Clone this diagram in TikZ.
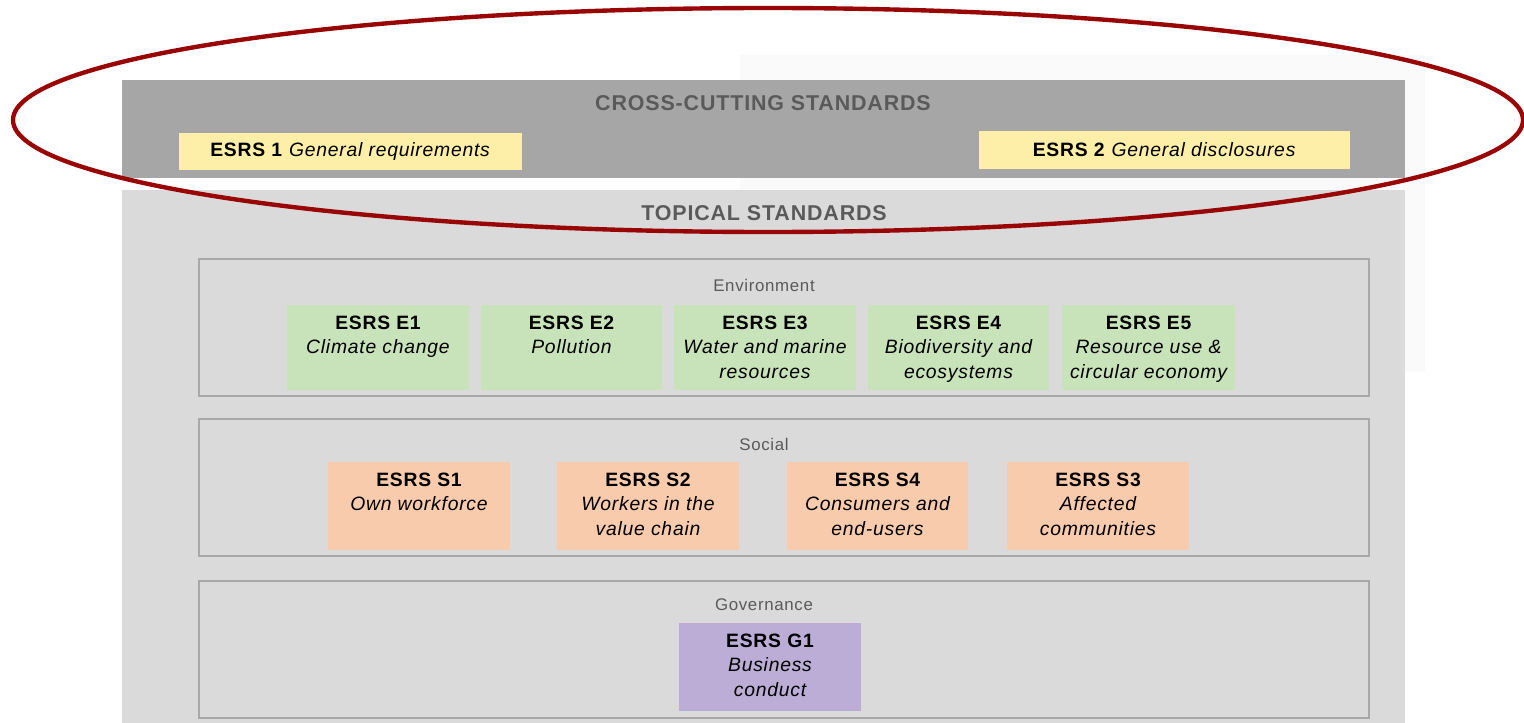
\documentclass[tikz,border=0pt]{standalone}
\usepackage{fontspec}
\setmainfont{Liberation Sans}[LetterSpace=4]
\usepackage{tikz}
\usetikzlibrary{positioning}

\definecolor{crossgray}{HTML}{A6A6A6}
\definecolor{topicgray}{HTML}{DADADA}
\definecolor{framegray}{HTML}{A8A8A8}
\definecolor{titlegray}{HTML}{5A5A5A}
\definecolor{esrsyellow}{HTML}{FDEEA8}
\definecolor{esrsgreen}{HTML}{C8E2B9}
\definecolor{esrsorange}{HTML}{F8CBAD}
\definecolor{esrspurple}{HTML}{BBADD5}
\definecolor{ringred}{HTML}{990606}

\newcommand{\esrsid}[1]{\textbf{\upshape ESRS #1}}

\tikzset{
  grouptitle/.style={text=titlegray, font=\fontsize{12.2}{14}\selectfont\bfseries},
  groupframe/.style={draw=framegray, line width=0.6pt},
  grouplabel/.style={text=titlegray, font=\fontsize{9.6}{11}\selectfont},
  crossbox/.style={fill=esrsyellow, draw=none, minimum height=0.76cm,
    inner sep=0pt, font=\fontsize{11}{13}\selectfont},
  topicbox/.style={draw=none, minimum width=3.64cm, inner sep=0pt},
  boxtext/.style={anchor=north, align=center, inner sep=0pt,
    font=\fontsize{11}{13.9}\selectfont\itshape}
}

\begin{document}
\begin{tikzpicture}[x=0.02cm, y=-0.02cm]
  \useasboundingbox (0,0) rectangle (1524,723);
  \fill[white] (0,0) rectangle (1524,723);
  \fill[gray!4] (740,55) rectangle (1425,372);

  % ── Cross-cutting standards ───────────────────────────────────────
  \fill[crossgray] (122,80) rectangle (1405,178);
  \node[grouptitle] (crosstitle) at (763,103) {CROSS-CUTTING STANDARDS};
  \node[crossbox, minimum width=6.86cm] (esrs1) at (350.5,151.5)
    {\textbf{ESRS 1} \textit{General requirements}};
  \node[crossbox, minimum width=7.42cm] (esrs2) at (1164.5,150)
    {\textbf{ESRS 2} \textit{General disclosures}};

  % ── Topical standards ─────────────────────────────────────────────
  \fill[topicgray] (122,190) rectangle (1405,723);
  \node[grouptitle] (topictitle) at (764,213) {TOPICAL STANDARDS};

  \draw[groupframe] (199,259) rectangle (1369,396);
  \draw[groupframe] (199,419) rectangle (1369,556);
  \draw[groupframe] (199,581) rectangle (1369,718);
  \foreach \grp/\ttl/\yy in {env/Environment/285, soc/Social/444, gov/Governance/605}
    { \node[grouplabel] (\grp) at (764,\yy) {\ttl}; }

  % environment
  \foreach \nm/\cx/\bw/\id/\desc in {e1/378/3.64/E1/Climate change,
      e2/571.5/3.62/E2/Pollution,
      e3/765/3.64/E3/Water and marine\\resources,
      e4/958.5/3.62/E4/Biodiversity and\\ecosystems,
      e5/1148.5/3.46/E5/Resource use \&\\circular economy}
    { \node[topicbox, fill=esrsgreen, minimum width=\bw cm, minimum height=1.7cm]
        (\nm) at (\cx,347.5) {};
      \node[boxtext] at ([yshift=-0.22cm]\nm.north) {\esrsid{\id}\\\desc}; }

  % social
  \foreach \nm/\cx/\id/\desc in {s1/419/S1/Own workforce,
      s2/648/S2/Workers in the\\value chain,
      s4/877.5/S4/Consumers and\\end-users,
      s3/1098/S3/Affected\\communities}
    { \node[topicbox, fill=esrsorange, minimum height=1.76cm] (\nm) at (\cx,506) {};
      \node[boxtext] at ([yshift=-0.22cm]\nm.north) {\esrsid{\id}\\\desc}; }

  % governance
  \node[topicbox, fill=esrspurple, minimum height=1.76cm] (g1) at (770,667) {};
  \node[boxtext] at ([yshift=-0.22cm]g1.north) {\esrsid{G1}\\Business\\conduct};

  % ── Highlight ring ────────────────────────────────────────────────
  \draw[ringred, line width=2.5pt] (768,120) ellipse [x radius=755, y radius=112];
\end{tikzpicture}
\end{document}
